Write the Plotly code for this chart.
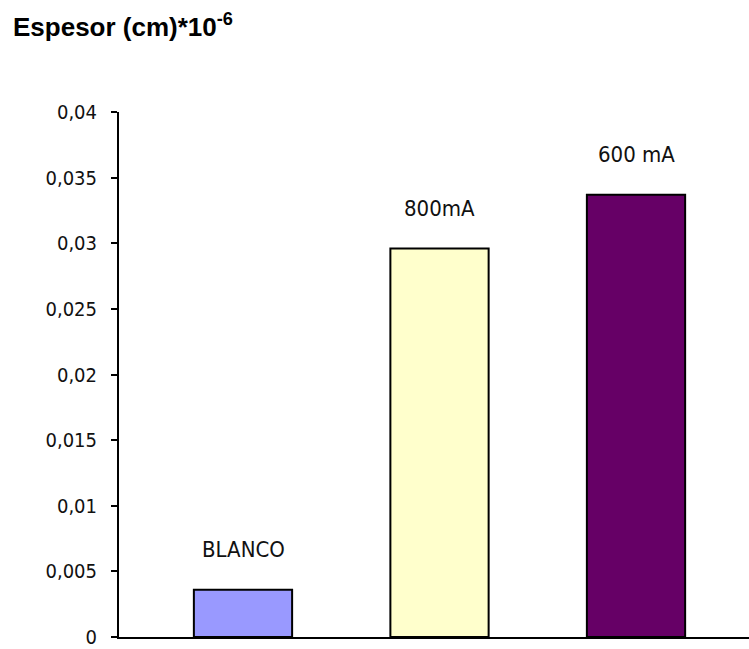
import plotly.graph_objects as go

# Data
categories = ["BLANCO", "800mA", "600 mA"]
values = [0.0036, 0.0296, 0.0337]
bar_colors = ["#9999FF", "#FFFFCC", "#660066"]
tick_vals = [0, 0.005, 0.01, 0.015, 0.02, 0.025, 0.03, 0.035, 0.04]
tick_text = ["0", "0,005", "0,01", "0,015", "0,02", "0,025", "0,03", "0,035", "0,04"]

narrow = "DejaVu Sans Condensed, Liberation Sans Narrow, sans-serif"

fig = go.Figure()
fig.add_trace(go.Bar(
    x=categories,
    y=values,
    width=0.5,
    marker=dict(color=bar_colors, line=dict(color="black", width=2)),
    showlegend=False,
    hoverinfo="x+y",
))

# Category labels above each bar
for cat, val in zip(categories, values):
    fig.add_annotation(
        x=cat, y=val, text=cat, showarrow=False,
        xanchor="center", yanchor="bottom", yshift=26,
        font=dict(family=narrow, size=22, color="#111111"),
    )

fig.update_layout(
    width=749, height=649,
    margin=dict(l=119, r=0, t=112, b=8),
    paper_bgcolor="white", plot_bgcolor="white",
    title=dict(
        text="<b>Espesor (cm)*10<sup>-6</sup></b>",
        x=13 / 749, xanchor="left", xref="container",
        y=1 - 27 / 649, yanchor="middle", yref="container",
        font=dict(family="Liberation Sans, Arial, sans-serif", size=26, color="black"),
    ),
    xaxis=dict(
        range=[-0.631, 2.575],
        showline=True, linecolor="black", linewidth=2,
        showticklabels=False, ticks="", showgrid=False, zeroline=False,
    ),
    yaxis=dict(
        range=[0, 0.04],
        tickvals=tick_vals, ticktext=tick_text,
        showline=True, linecolor="black", linewidth=2,
        ticks="outside", ticklen=6, tickwidth=2, tickcolor="black",
        ticklabelstandoff=10, ticklabeloverflow="allow",
        showgrid=False, zeroline=False,
        tickfont=dict(family=narrow, size=20, color="#111111"),
    ),
)

fig.write_html("out.html")
